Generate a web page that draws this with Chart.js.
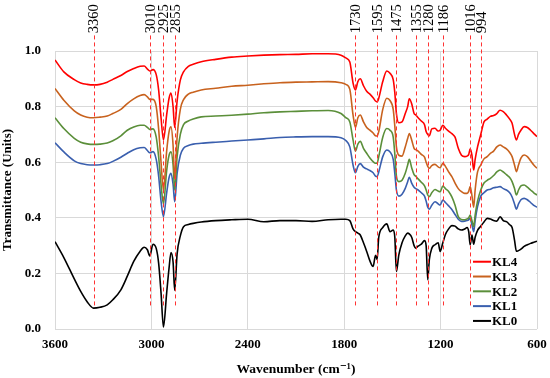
<!DOCTYPE html>
<html>
<head>
<meta charset="utf-8">
<script src="https://cdn.jsdelivr.net/npm/chart.js@4"></script>
<style>
  html, body { margin: 0; padding: 0; background: #fff; }
  #ftir { display: block; }
</style>
</head>
<body>
<canvas id="ftir" width="550" height="378"></canvas>
<script>
// wavenumber grid (cm-1) shared by all five spectra
const wavenumbers = [3600, 3545, 3480, 3440, 3400, 3360, 3320, 3275, 3240, 3190, 3150, 3110, 3070, 3045, 3025, 3010, 2990, 2970, 2955, 2940, 2925, 2905, 2890, 2878, 2865, 2855, 2840, 2820, 2800, 2770, 2740, 2690, 2600, 2500, 2400, 2300, 2200, 2100, 2000, 1900, 1820, 1790, 1765, 1745, 1730, 1715, 1700, 1680, 1660, 1640, 1620, 1605, 1595, 1585, 1560, 1535, 1515, 1495, 1485, 1475, 1460, 1440, 1420, 1405, 1395, 1380, 1365, 1355, 1340, 1320, 1300, 1290, 1280, 1270, 1255, 1235, 1215, 1203, 1186, 1170, 1150, 1130, 1110, 1090, 1070, 1050, 1035, 1025, 1016, 1005, 994, 985, 970, 950, 930, 910, 890, 870, 850, 830, 810, 790, 770, 755, 740, 728, 715, 700, 680, 660, 640, 620, 600];

const kl4 = [0.968, 0.925, 0.897, 0.885, 0.880, 0.878, 0.880, 0.888, 0.898, 0.912, 0.926, 0.937, 0.945, 0.946, 0.935, 0.928, 0.933, 0.915, 0.860, 0.760, 0.680, 0.770, 0.830, 0.849, 0.800, 0.725, 0.820, 0.895, 0.925, 0.945, 0.952, 0.961, 0.970, 0.978, 0.982, 0.985, 0.987, 0.988, 0.990, 0.990, 0.985, 0.975, 0.960, 0.885, 0.860, 0.890, 0.900, 0.875, 0.855, 0.845, 0.832, 0.820, 0.817, 0.830, 0.890, 0.928, 0.920, 0.897, 0.850, 0.775, 0.742, 0.745, 0.775, 0.800, 0.828, 0.810, 0.775, 0.770, 0.760, 0.748, 0.735, 0.710, 0.700, 0.695, 0.720, 0.722, 0.712, 0.715, 0.733, 0.722, 0.712, 0.703, 0.690, 0.650, 0.625, 0.620, 0.622, 0.628, 0.648, 0.625, 0.572, 0.610, 0.655, 0.700, 0.745, 0.755, 0.765, 0.768, 0.775, 0.787, 0.782, 0.770, 0.755, 0.740, 0.700, 0.680, 0.700, 0.715, 0.728, 0.725, 0.715, 0.703, 0.692];

const kl3 = [0.865, 0.823, 0.785, 0.770, 0.762, 0.760, 0.762, 0.766, 0.775, 0.790, 0.811, 0.828, 0.840, 0.843, 0.835, 0.826, 0.826, 0.800, 0.720, 0.600, 0.500, 0.640, 0.710, 0.727, 0.660, 0.540, 0.690, 0.790, 0.825, 0.845, 0.852, 0.860, 0.866, 0.873, 0.877, 0.882, 0.886, 0.888, 0.889, 0.890, 0.886, 0.880, 0.862, 0.770, 0.725, 0.760, 0.770, 0.745, 0.725, 0.715, 0.705, 0.695, 0.694, 0.710, 0.790, 0.830, 0.822, 0.790, 0.730, 0.655, 0.625, 0.622, 0.655, 0.685, 0.703, 0.680, 0.650, 0.645, 0.640, 0.628, 0.618, 0.600, 0.585, 0.578, 0.588, 0.592, 0.583, 0.580, 0.596, 0.585, 0.565, 0.548, 0.525, 0.505, 0.494, 0.488, 0.488, 0.495, 0.512, 0.480, 0.438, 0.500, 0.565, 0.590, 0.612, 0.620, 0.632, 0.640, 0.655, 0.662, 0.655, 0.648, 0.635, 0.620, 0.590, 0.566, 0.590, 0.615, 0.626, 0.620, 0.605, 0.590, 0.578];

const kl2 = [0.760, 0.721, 0.686, 0.672, 0.666, 0.664, 0.665, 0.669, 0.677, 0.695, 0.715, 0.727, 0.733, 0.733, 0.725, 0.718, 0.720, 0.690, 0.620, 0.520, 0.450, 0.570, 0.625, 0.637, 0.590, 0.500, 0.620, 0.700, 0.735, 0.748, 0.755, 0.763, 0.766, 0.769, 0.773, 0.778, 0.781, 0.783, 0.785, 0.786, 0.775, 0.760, 0.745, 0.680, 0.640, 0.665, 0.675, 0.650, 0.632, 0.615, 0.602, 0.596, 0.597, 0.620, 0.690, 0.721, 0.715, 0.690, 0.630, 0.550, 0.530, 0.535, 0.560, 0.590, 0.610, 0.580, 0.555, 0.550, 0.540, 0.528, 0.515, 0.500, 0.482, 0.476, 0.490, 0.502, 0.496, 0.494, 0.514, 0.505, 0.495, 0.475, 0.445, 0.404, 0.394, 0.393, 0.396, 0.400, 0.410, 0.390, 0.368, 0.410, 0.460, 0.500, 0.525, 0.535, 0.542, 0.552, 0.565, 0.572, 0.565, 0.555, 0.545, 0.530, 0.505, 0.482, 0.500, 0.515, 0.518, 0.510, 0.500, 0.490, 0.482];

const kl1 = [0.670, 0.637, 0.605, 0.595, 0.591, 0.590, 0.591, 0.595, 0.603, 0.618, 0.632, 0.645, 0.652, 0.653, 0.642, 0.634, 0.638, 0.610, 0.550, 0.460, 0.404, 0.490, 0.545, 0.560, 0.520, 0.458, 0.560, 0.625, 0.650, 0.660, 0.665, 0.668, 0.672, 0.676, 0.680, 0.684, 0.689, 0.691, 0.692, 0.692, 0.688, 0.678, 0.655, 0.590, 0.562, 0.585, 0.595, 0.582, 0.576, 0.570, 0.562, 0.550, 0.548, 0.565, 0.620, 0.644, 0.637, 0.610, 0.560, 0.500, 0.478, 0.485, 0.506, 0.530, 0.546, 0.525, 0.510, 0.505, 0.500, 0.490, 0.478, 0.460, 0.438, 0.431, 0.445, 0.458, 0.450, 0.446, 0.464, 0.455, 0.443, 0.430, 0.412, 0.395, 0.387, 0.388, 0.390, 0.393, 0.398, 0.375, 0.350, 0.390, 0.440, 0.478, 0.490, 0.500, 0.503, 0.508, 0.510, 0.512, 0.505, 0.500, 0.490, 0.475, 0.450, 0.431, 0.450, 0.465, 0.470, 0.465, 0.455, 0.445, 0.438];

const kl0 = [0.314, 0.257, 0.180, 0.135, 0.098, 0.075, 0.078, 0.087, 0.105, 0.141, 0.190, 0.243, 0.280, 0.294, 0.285, 0.263, 0.305, 0.290, 0.237, 0.130, 0.007, 0.130, 0.220, 0.275, 0.240, 0.139, 0.270, 0.335, 0.368, 0.376, 0.380, 0.385, 0.390, 0.393, 0.395, 0.386, 0.390, 0.390, 0.387, 0.393, 0.395, 0.395, 0.390, 0.360, 0.350, 0.345, 0.338, 0.310, 0.279, 0.245, 0.225, 0.265, 0.250, 0.330, 0.365, 0.378, 0.350, 0.356, 0.330, 0.207, 0.267, 0.310, 0.335, 0.345, 0.342, 0.330, 0.300, 0.291, 0.298, 0.305, 0.318, 0.300, 0.177, 0.250, 0.290, 0.303, 0.310, 0.279, 0.310, 0.340, 0.360, 0.372, 0.370, 0.360, 0.356, 0.360, 0.365, 0.350, 0.303, 0.338, 0.305, 0.330, 0.355, 0.370, 0.385, 0.398, 0.396, 0.390, 0.388, 0.404, 0.390, 0.386, 0.375, 0.365, 0.320, 0.279, 0.282, 0.287, 0.297, 0.303, 0.308, 0.312, 0.316];

const seriesNames = ['KL4', 'KL3', 'KL2', 'KL1', 'KL0'];
const seriesColors = ['#ff0000', '#c8621e', '#5b8f3a', '#3a5fae', '#000000'];

// band markers: text and where the dashed line is drawn
const peakLabels = ['3360', '3010', '2925', '2855', '1730', '1595', '1475', '1355', '1280', '1186', '1016', '994'];
const peakPositions = [3360, 3010, 2925, 2855, 1730, 1595, 1475, 1355, 1280, 1186, 1016, 950];

const serif = "'Liberation Serif', 'DejaVu Serif', serif";

const series = [kl4, kl3, kl2, kl1, kl0];
const datasets = series.map((vals, i) => ({
  label: seriesNames[i],
  data: wavenumbers.map((w, j) => ({ x: w, y: vals[j] })),
  borderColor: seriesColors[i],
  borderWidth: 1.6,
  pointRadius: 0,
  cubicInterpolationMode: 'monotone',
  fill: false
}));

const peakMarkers = {
  id: 'peakMarkers',
  afterDatasetsDraw(chart) {
    const { ctx, scales: { x, y } } = chart;
    ctx.save();
    ctx.strokeStyle = '#ff3333';
    ctx.lineWidth = 1;
    ctx.setLineDash([4, 3]);
    const yTop = y.getPixelForValue(1.056);
    const yBot = y.getPixelForValue(0.075);
    peakPositions.forEach(p => {
      const px = Math.round(x.getPixelForValue(p)) + 0.5;
      ctx.beginPath();
      ctx.moveTo(px, yTop);
      ctx.lineTo(px, yBot);
      ctx.stroke();
    });
    ctx.setLineDash([]);
    ctx.fillStyle = '#000';
    ctx.font = "14.5px " + serif;
    ctx.textAlign = 'left';
    ctx.textBaseline = 'middle';
    const yText = y.getPixelForValue(1.064);
    peakLabels.forEach((t, i) => {
      const px = x.getPixelForValue(peakPositions[i]);
      ctx.save();
      ctx.translate(px + 1, yText);
      ctx.rotate(-Math.PI / 2);
      ctx.fillText(t, 0, 0);
      ctx.restore();
    });
    ctx.restore();
  }
};

const insideLegend = {
  id: 'insideLegend',
  afterDraw(chart) {
    const { ctx, chartArea, scales: { y } } = chart;
    ctx.save();
    const left = chartArea.right - 65;
    ctx.fillStyle = '#fff';
    ctx.fillRect(left, y.getPixelForValue(0.277), chartArea.right - left - 1, chartArea.bottom - y.getPixelForValue(0.277) - 1);
    ctx.font = "bold 13px " + serif;
    ctx.textBaseline = 'middle';
    ctx.textAlign = 'left';
    seriesNames.forEach((n, i) => {
      const ty = y.getPixelForValue(0.242) + i * 14.8;
      ctx.strokeStyle = seriesColors[i];
      ctx.lineWidth = 2;
      ctx.beginPath();
      ctx.moveTo(left + 1, ty);
      ctx.lineTo(left + 19, ty);
      ctx.stroke();
      ctx.fillStyle = '#000';
      ctx.fillText(n, left + 20, ty + 1);
    });
    ctx.restore();
  }
};

new Chart(document.getElementById('ftir'), {
  type: 'line',
  data: { datasets: datasets },
  plugins: [peakMarkers, insideLegend],
  options: {
    responsive: false,
    animation: false,
    devicePixelRatio: 1,
    layout: { padding: { top: 51, right: 13, left: 0, bottom: 0 } },
    plugins: {
      legend: { display: false },
      tooltip: { enabled: false }
    },
    scales: {
      x: {
        type: 'linear',
        reverse: true,
        min: 600,
        max: 3600,
        afterFit: s => { s.height = 49; s.paddingLeft = 0; s.paddingRight = 0; },
        ticks: {
          stepSize: 600,
          color: '#000',
          padding: 8,
          maxRotation: 0,
          callback: v => String(v),
          font: { family: serif, size: 13, weight: 'bold' }
        },
        grid: { color: '#d9d9d9', drawTicks: false },
        border: { display: false },
        title: {
          display: true,
          text: 'Wavenumber (cm\u207B\u00B9)',
          color: '#000',
          padding: { top: 2, bottom: 0 },
          font: { family: serif, size: 13.5, weight: 'bold' }
        }
      },
      y: {
        min: 0,
        max: 1,
        afterFit: s => { s.width = 55; },
        ticks: {
          stepSize: 0.2,
          color: '#000',
          padding: 14,
          callback: v => v.toFixed(1),
          font: { family: serif, size: 13, weight: 'bold' }
        },
        grid: { color: '#d9d9d9', drawTicks: false },
        border: { display: false },
        title: {
          display: true,
          text: 'Transmittance (Units)',
          color: '#000',
          padding: { top: 0, bottom: 2 },
          font: { family: serif, size: 13, weight: 'bold' }
        }
      }
    }
  }
});
</script>
</body>
</html>
